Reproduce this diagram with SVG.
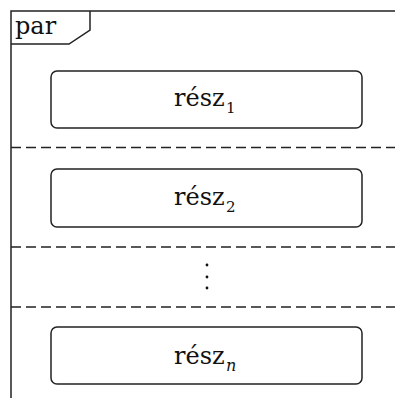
<svg xmlns="http://www.w3.org/2000/svg" width="395" height="398" viewBox="0 0 395 398">
<style>
.frame{fill:none;stroke:#222;stroke-width:1.5}
.box rect{fill:#fff;stroke:#222;stroke-width:1.5}
.sep{stroke:#222;stroke-width:1.3;stroke-dasharray:10 5;fill:none}
.lbl{font-family:"DejaVu Serif","Liberation Serif",serif;font-size:24px;fill:#111}
.sub{font-family:"DejaVu Serif","Liberation Serif",serif;font-size:15px;fill:#111}
.subi{font-family:"DejaVu Serif","Liberation Serif",serif;font-size:16px;font-style:italic;fill:#111}
</style>
<rect width="395" height="398" fill="#fff"/>
<g id="frame">
<path class="frame" d="M11,400 V11 H400"/>
<path class="frame" d="M11,44 H69 L90,30 V11"/>
<text x="15" y="34" class="lbl" font-size="25">par</text>
</g>
<g id="connectors">
<line class="sep" x1="11" y1="147.5" x2="395" y2="147.5"/>
<line class="sep" x1="11" y1="247" x2="395" y2="247"/>
<line class="sep" x1="11" y1="307" x2="395" y2="307"/>
</g>
<g id="resz1" class="box">
<rect x="51" y="71" width="311" height="57" rx="6"/>
<text x="174" y="106" class="lbl">rész</text>
<text x="226" y="113" class="sub">1</text>
</g>
<g id="resz2" class="box">
<rect x="51" y="169" width="311" height="58" rx="6"/>
<text x="174" y="205" class="lbl">rész</text>
<text x="226" y="212" class="sub">2</text>
</g>
<g id="dots">
<circle cx="207" cy="265" r="1.4" fill="#111"/>
<circle cx="207" cy="277" r="1.4" fill="#111"/>
<circle cx="207" cy="288" r="1.4" fill="#111"/>
</g>
<g id="reszn" class="box">
<rect x="51" y="327" width="311" height="57" rx="6"/>
<text x="174" y="364" class="lbl">rész</text>
<text x="226" y="371" class="subi">n</text>
</g>
</svg>
